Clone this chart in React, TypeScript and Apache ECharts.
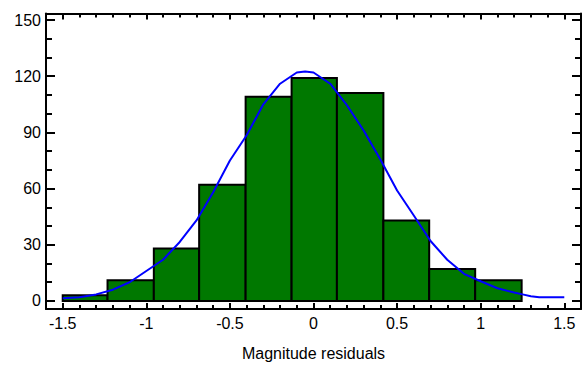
import React, { useEffect, useRef } from "react";
import * as echarts from "echarts";

// Histogram bins (edges) and counts
const binEdges = [-1.5, -1.232, -0.955, -0.684, -0.406, -0.131, 0.14, 0.418, 0.692, 0.967, 1.245];
const binCounts = [3, 11, 28, 62, 109, 119, 111, 43, 17, 11];

// Fitted curve
const curveX = [-1.5, -1.4, -1.3, -1.2, -1.1, -1.0, -0.9, -0.8, -0.7, -0.6, -0.5, -0.4, -0.3, -0.2, -0.1, -0.05, 0.0, 0.1, 0.2, 0.3, 0.4, 0.5, 0.6, 0.7, 0.8, 0.9, 1.0, 1.1, 1.2, 1.25, 1.3, 1.35, 1.4, 1.5];
const curveY = [1.5, 2, 3.5, 6, 10, 16, 22, 31.5, 43, 58, 75, 88.5, 105, 116, 122, 122.5, 122, 116, 104.5, 91, 75.5, 59, 45.6, 32, 22, 14.5, 10.5, 6.8, 4.5, 3.5, 2.5, 2, 2, 2];

// Tick labels
const xMajorTicks = [-1.5, -1, -0.5, 0, 0.5, 1, 1.5];
const xMajorLabels = ["-1.5", "-1", "-0.5", "0", "0.5", "1", "1.5"];
const yMajorTicks = [0, 30, 60, 90, 120, 150];
const yMajorLabels = ["0", "30", "60", "90", "120", "150"];
const xMinorStep = 0.1;
const yMinorStep = 10;

const X_MIN = -1.6;
const X_MAX = 1.6;
const Y_MIN = -4.3;
const Y_MAX = 153.5;

const FONT = "Liberation Sans, Arial, Helvetica, sans-serif";

function minorValues(majors: number[], step: number, lo: number, hi: number) {
  const out: number[] = [];
  const n = Math.round((hi - lo) / step);
  for (let i = 0; i <= n; i++) {
    const v = Math.round((lo + i * step) * 1000) / 1000;
    if (!majors.some((m) => Math.abs(m - v) < 1e-6)) out.push(v);
  }
  return out;
}

export default function App() {
  const ref = useRef<HTMLDivElement>(null);
  useEffect(() => {
    if (!ref.current) return;
    const chart = echarts.init(ref.current, undefined, { renderer: "svg" });
    const xMinor = minorValues(xMajorTicks, xMinorStep, -1.5, 1.5);
    const yMinor = minorValues(yMajorTicks, yMinorStep, 0, 150);

    const lineStyle = { color: "#000", width: 2 };
    const mkX = (pos: "bottom" | "top", major: boolean, showLine: boolean, showLabel: boolean) => ({
      type: "value",
      position: pos,
      min: X_MIN,
      max: X_MAX,
      axisLine: { show: showLine, onZero: false, lineStyle },
      splitLine: { show: false },
      axisTick: {
        show: true,
        inside: true,
        length: major ? 6 : 4,
        lineStyle: { color: "#000", width: 2 },
        customValues: major ? xMajorTicks : xMinor,
      },
      axisLabel: showLabel
        ? {
            show: true,
            customValues: xMajorTicks,
            margin: 6,
            color: "#000",
            fontSize: 16,
            fontFamily: FONT,
            formatter: (v: number) => {
              const i = xMajorTicks.findIndex((m) => Math.abs(m - v) < 1e-6);
              return i >= 0 ? xMajorLabels[i] : "";
            },
          }
        : { show: false },
      ...(showLabel
        ? {
            name: "Magnitude residuals",
            nameLocation: "middle",
            nameGap: 36,
            nameTextStyle: { color: "#000", fontSize: 16, fontFamily: FONT },
          }
        : {}),
    });
    const mkY = (pos: "left" | "right", major: boolean, showLine: boolean, showLabel: boolean) => ({
      type: "value",
      position: pos,
      min: Y_MIN,
      max: Y_MAX,
      axisLine: { show: showLine, onZero: false, lineStyle },
      splitLine: { show: false },
      axisTick: {
        show: true,
        inside: true,
        length: major ? 9 : 6,
        lineStyle: { color: "#000", width: 2 },
        customValues: major ? yMajorTicks : yMinor,
      },
      axisLabel: showLabel
        ? {
            show: true,
            customValues: yMajorTicks,
            margin: 5,
            color: "#000",
            fontSize: 16,
            fontFamily: FONT,
            formatter: (v: number) => {
              const i = yMajorTicks.findIndex((m) => Math.abs(m - v) < 1e-6);
              return i >= 0 ? yMajorLabels[i] : "";
            },
          }
        : { show: false },
    });

    const bars = binCounts.map((c, i) => [binEdges[i], binEdges[i + 1], c]);
    const curve = curveX.map((x, i) => [x, curveY[i]]);

    chart.setOption({
      animation: false,
      backgroundColor: "#fff",
      grid: { left: 46, right: 1, top: 13.5, bottom: 57, containLabel: false },
      xAxis: [
        mkX("bottom", true, true, true),
        mkX("bottom", false, false, false),
        mkX("top", true, true, false),
        mkX("top", false, false, false),
      ],
      yAxis: [
        mkY("left", true, true, true),
        mkY("left", false, false, false),
        mkY("right", true, true, false),
        mkY("right", false, false, false),
      ],
      series: [
        {
          type: "custom",
          xAxisIndex: 0,
          yAxisIndex: 0,
          data: bars,
          renderItem: (params: any, api: any) => {
            const p0 = api.coord([api.value(0), api.value(2)]);
            const p1 = api.coord([api.value(1), 0]);
            return {
              type: "rect",
              shape: { x: p0[0], y: p0[1], width: p1[0] - p0[0], height: p1[1] - p0[1] },
              style: { fill: "#007800", stroke: "#000", lineWidth: 2 },
            };
          },
          z: 2,
        },
        {
          type: "line",
          xAxisIndex: 0,
          yAxisIndex: 0,
          data: curve,
          showSymbol: false,
          symbol: "none",
          lineStyle: { color: "#0000ff", width: 2 },
          z: 3,
        },
      ],
    });
    return () => chart.dispose();
  }, []);
  return (
    <div
      ref={ref}
      style={{ position: "fixed", left: 0, top: 0, width: 582, height: 366, background: "#fff" }}
    />
  );
}
